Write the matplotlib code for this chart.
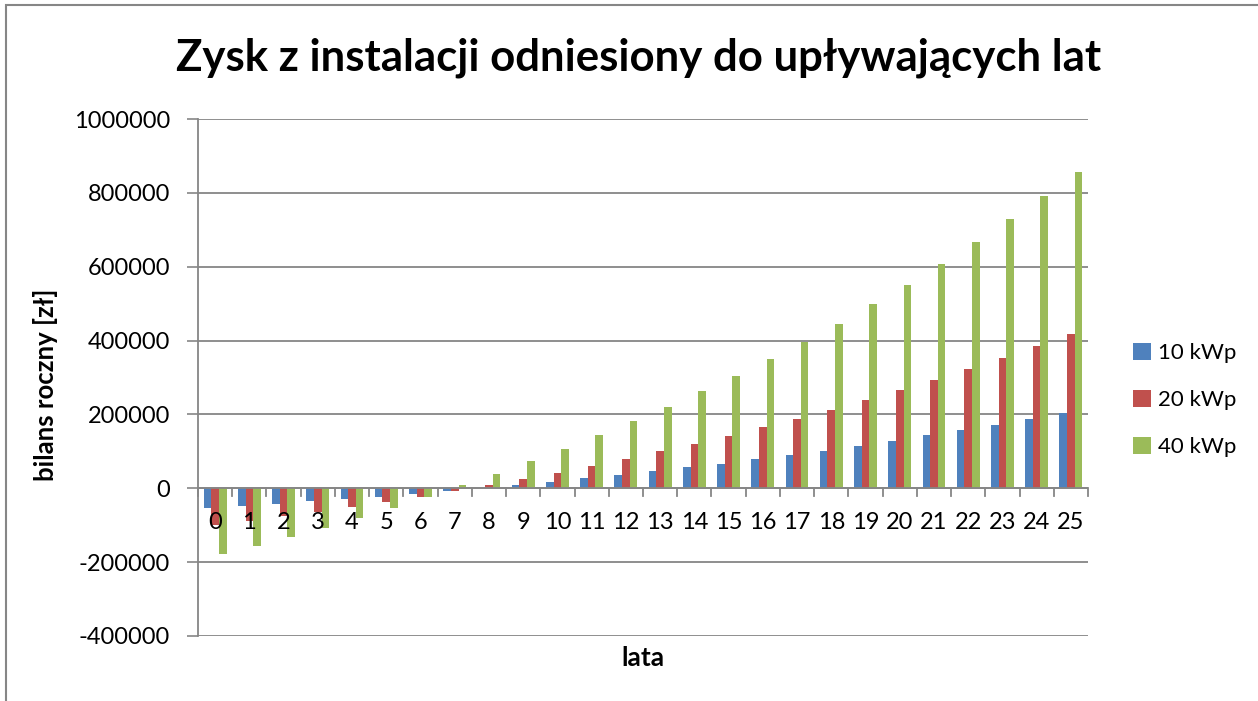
import matplotlib
matplotlib.use("Agg")
import matplotlib.pyplot as plt
import numpy as np
from matplotlib.patches import Rectangle

years = list(range(26))
series_names = ["10 kWp", "20 kWp", "40 kWp"]
kwp10 = [-54000, -47800, -41400, -35100, -28800, -22500, -14400, -7200, 500, 8000,
         17100, 27000, 36900, 46000, 56800, 66700, 78400, 90100, 101800, 115300,
         128800, 143300, 156800, 172100, 188300, 204600]
kwp20 = [-100000, -88300, -74800, -64000, -50400, -36000, -22500, -7000, 8100, 25200,
         42400, 61300, 80200, 100000, 120800, 141500, 164900, 188300, 212600, 237900,
         264900, 293700, 322600, 353200, 384700, 418000]
kwp40 = [-178400, -155000, -131500, -106300, -79300, -52300, -22500, 8100, 39600, 73000,
         107200, 143300, 181100, 219900, 262200, 305000, 350000, 396400, 446000, 498300,
         551400, 608000, 666700, 728000, 792000, 857600]
y_ticks = [-400000, -200000, 0, 200000, 400000, 600000, 800000, 1000000]
title = "Zysk z instalacji odniesiony do upływających lat"
xlabel = "lata"
ylabel = "bilans roczny [zł]"

colors = ["#4F81BD", "#C0504D", "#9BBB59"]
plt.rcParams['font.family'] = ['Lato', 'DejaVu Sans']

W, H = 1258, 701
fig = plt.figure(figsize=(W / 100, H / 100), dpi=100)
ax = fig.add_axes([198 / W, (H - 636) / H, (1088 - 198) / W, (636 - 119) / H])

x = np.arange(len(years))
bw = 1 / 4.5
for i, (vals, name, c) in enumerate(zip([kwp10, kwp20, kwp40], series_names, colors)):
    ax.bar(x + (i - 1) * bw, vals, width=bw, color=c, label=name, zorder=3,
           edgecolor='none')

ax.set_xlim(-0.5, len(years) - 0.5)
ax.set_ylim(y_ticks[0], y_ticks[-1])
ax.set_yticks(y_ticks)
ax.set_yticklabels([str(v) for v in y_ticks])
ax.tick_params(axis='y', length=8, width=1.2, color='#868686', labelsize=17, pad=12)
ax.yaxis.grid(True, color='#868686', linewidth=1.3, zorder=0)
ax.set_axisbelow(True)

for s in ['top', 'right', 'bottom']:
    ax.spines[s].set_visible(False)
ax.spines['left'].set_color('#868686')
ax.spines['left'].set_linewidth(1.3)

# x-axis line at y=0
ax.axhline(0, color='#868686', linewidth=1.3, zorder=4)
# tick marks between categories
for b in np.arange(-0.5, len(years), 1.0):
    ax.plot([b, b], [0, -22000], color='#868686', linewidth=1.3, zorder=4, clip_on=False)
ax.set_xticks([])
for xi, yr in zip(x, years):
    ax.text(xi, -93000, str(yr), ha='center', va='center', fontsize=17, zorder=5)

fig.text(46 / W, 1 - 385 / H, ylabel, rotation=90, ha='center', va='center',
         fontsize=18.5, fontweight='bold')
fig.text(643 / W, 1 - 658 / H, xlabel, ha='center', va='center',
         fontsize=19, fontweight='bold')

fig.text(639 / W, 1 - 58 / H, title, ha='center', va='center', fontsize=31.5,
         fontweight='bold')

leg = fig.legend(loc='upper left', bbox_to_anchor=(1122 / W, 1 - 332 / H),
                 frameon=False, fontsize=16, handlelength=0.8, handleheight=0.8,
                 handletextpad=0.3, labelspacing=1.2, borderpad=0)

fig.patches.append(Rectangle((6 / W, -0.1), 2.0, 1 - 5 / H + 0.1, transform=fig.transFigure,
                             fill=False, edgecolor='#868686', linewidth=1.5))

fig.savefig("out.png", dpi=100)
